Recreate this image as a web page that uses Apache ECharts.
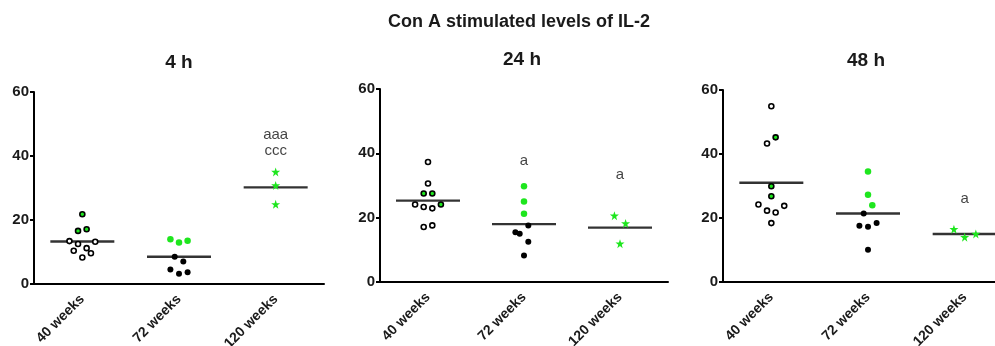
<!DOCTYPE html>
<html><head><meta charset="utf-8">
<script src="https://cdn.jsdelivr.net/npm/echarts@6/dist/echarts.min.js"></script>
<style>html,body{margin:0;padding:0;background:#fff}#c{width:995px;height:346px}</style>
</head><body><div id="c"></div>
<script>
const mainTitle = 'Con A stimulated levels of IL-2';
const panelTitles = ['4 h', '24 h', '48 h'];
const categories = ['40 weeks', '72 weeks', '120 weeks'];
const yTicks = [0, 20, 40, 60];

// ---- 4 h ----
const h4_40_open = [13.4, 13.2, 12.5, 11.2, 10.4, 9.6, 8.3];
const h4_40_open_jit = [-3, 3, -1, 1, -2, 2, 0];
const h4_40_green = [21.8, 16.6, 17.1];
const h4_40_green_jit = [0, -1, 1];
const h4_72_green = [14.0, 13.0, 13.5];
const h4_72_green_jit = [-2, 0, 2];
const h4_72_black = [8.5, 7.0, 4.5, 3.2, 3.7];
const h4_72_black_jit = [-1, 1, -2, 0, 2];
const h4_120_star = [35.0, 30.8, 24.9];
const h4_120_star_jit = [0, 0, 0];
const h4_means = [13.3, 8.5, 30.2];
const h4_annot = [['120 weeks', 46.5, 'aaa'], ['120 weeks', 41.5, 'ccc']];

// ---- 24 h ----
const h24_40_open = [37.3, 30.6, 24.1, 23.3, 22.9, 17.1, 17.6];
const h24_40_open_jit = [0, 0, -3, -1, 1, -1, 1];
const h24_40_green = [27.5, 27.5, 24.1];
const h24_40_green_jit = [-1, 1, 3];
const h24_72_green = [29.8, 25.0, 21.2];
const h24_72_green_jit = [0, 0, 0];
const h24_72_black = [17.6, 15.5, 15.0, 12.5, 8.2];
const h24_72_black_jit = [1, -2, -1, 1, 0];
const h24_120_star = [20.6, 18.2, 11.9];
const h24_120_star_jit = [-1.3, 1.3, 0];
const h24_means = [25.3, 18.0, 16.9];
const h24_annot = [['72 weeks', 37.8, 'a'], ['120 weeks', 33.4, 'a']];

// ---- 48 h ----
const h48_40_open = [54.9, 43.3, 24.2, 22.3, 21.7, 23.8, 18.4];
const h48_40_open_jit = [0, -1, -3, -1, 1, 3, 0];
const h48_40_green = [45.2, 29.9, 26.8];
const h48_40_green_jit = [1, 0, 0];
const h48_72_green = [34.5, 27.3, 24.0];
const h48_72_green_jit = [0, 0, 1];
const h48_72_black = [21.4, 17.6, 17.3, 18.4, 10.1];
const h48_72_black_jit = [-1, -2, 0, 2, 0];
const h48_120_star = [16.5, 14.0, 15.0];
const h48_120_star_jit = [-2.5, 0, 2.6];
const h48_means = [31.0, 21.4, 15.0];
const h48_annot = [['120 weeks', 26.0, 'a']];

const panels = [
  {open: h4_40_open, openJ: h4_40_open_jit, g40: h4_40_green, g40J: h4_40_green_jit,
   g72: h4_72_green, g72J: h4_72_green_jit, b72: h4_72_black, b72J: h4_72_black_jit,
   s120: h4_120_star, s120J: h4_120_star_jit, means: h4_means, annot: h4_annot},
  {open: h24_40_open, openJ: h24_40_open_jit, g40: h24_40_green, g40J: h24_40_green_jit,
   g72: h24_72_green, g72J: h24_72_green_jit, b72: h24_72_black, b72J: h24_72_black_jit,
   s120: h24_120_star, s120J: h24_120_star_jit, means: h24_means, annot: h24_annot},
  {open: h48_40_open, openJ: h48_40_open_jit, g40: h48_40_green, g40J: h48_40_green_jit,
   g72: h48_72_green, g72J: h48_72_green_jit, b72: h48_72_black, b72J: h48_72_black_jit,
   s120: h48_120_star, s120J: h48_120_star_jit, means: h48_means, annot: h48_annot}
];

const GREEN = '#1ee61e';
const TXT = '#1a1a1a';
const FONT = '"Liberation Sans", Arial, sans-serif';
const JIT = 4.3;
const layout = [
  {left: 34, top: 92, width: 290, height: 192, titleX: 179, titleY: 63},
  {left: 380, top: 89, width: 288, height: 193, titleX: 522, titleY: 60},
  {left: 723, top: 90, width: 290, height: 192, titleX: 866, titleY: 61}
];

function pts(cat, vals, jit) {
  return vals.map((v, i) => ({value: [cat, v], symbolOffset: [jit[i] * JIT, 0]}));
}

const grids = [], xAxes = [], yAxes = [], series = [];
const graphics = [{type: 'text', left: 388, top: 13, silent: true,
  style: {text: mainTitle, font: 'bold 18px ' + FONT, fill: TXT}}];

panels.forEach((p, i) => {
  const L = layout[i];
  grids.push({left: L.left, top: L.top, width: L.width, height: L.height,
    containLabel: false, outerBoundsMode: 'none'});
  graphics.push({type: 'text', x: L.titleX, y: L.titleY, silent: true,
    style: {text: panelTitles[i], font: 'bold 19px ' + FONT, fill: TXT,
      textAlign: 'center', textVerticalAlign: 'middle'}});
  xAxes.push({type: 'category', gridIndex: i, data: categories, boundaryGap: true,
    axisLine: {lineStyle: {color: '#000', width: 2}},
    axisTick: {alignWithLabel: true, length: 5, lineStyle: {color: '#000', width: 2}},
    axisLabel: {rotate: 45, fontFamily: FONT, fontSize: 14, fontWeight: 'bold', color: TXT, margin: 13},
    splitLine: {show: false}});
  yAxes.push({type: 'value', gridIndex: i, min: yTicks[0], max: yTicks[yTicks.length - 1], interval: 20,
    axisLine: {show: true, lineStyle: {color: '#000', width: 2}},
    axisTick: {show: true, length: 4, lineStyle: {color: '#000', width: 2}},
    axisLabel: {fontFamily: FONT, fontSize: 15, fontWeight: 'bold', color: TXT, margin: 5},
    splitLine: {show: false}});
  // mean lines
  series.push({type: 'scatter', xAxisIndex: i, yAxisIndex: i, z: 1, silent: true,
    symbol: 'rect', symbolSize: [64, 2.4], itemStyle: {color: '#000'},
    data: p.means.map((m, k) => [categories[k], m])});
  // open circles 40 wk
  series.push({type: 'scatter', xAxisIndex: i, yAxisIndex: i, z: 3,
    symbol: 'circle', symbolSize: 5, itemStyle: {color: '#fff', borderColor: '#000', borderWidth: 1.6, opacity: 1},
    data: pts(categories[0], p.open, p.openJ)});
  // green with black edge 40 wk
  series.push({type: 'scatter', xAxisIndex: i, yAxisIndex: i, z: 3,
    symbol: 'circle', symbolSize: 5, itemStyle: {color: GREEN, borderColor: '#000', borderWidth: 1.6, opacity: 1},
    data: pts(categories[0], p.g40, p.g40J)});
  // green filled 72 wk
  series.push({type: 'scatter', xAxisIndex: i, yAxisIndex: i, z: 3,
    symbol: 'circle', symbolSize: 6.5, itemStyle: {color: GREEN, opacity: 1},
    data: pts(categories[1], p.g72, p.g72J)});
  // black filled 72 wk
  series.push({type: 'scatter', xAxisIndex: i, yAxisIndex: i, z: 3,
    symbol: 'circle', symbolSize: 6, itemStyle: {color: '#000', opacity: 1},
    data: pts(categories[1], p.b72, p.b72J)});
  // green stars 120 wk
  series.push({type: 'scatter', xAxisIndex: i, yAxisIndex: i, z: 3,
    symbol: 'path://M50,0 L61.8,35.1 L98.9,35.4 L69.1,57.6 L79.4,95.1 L50,72.5 L20.6,95.1 L30.9,57.6 L1.1,35.4 L38.2,35.1 Z',
    symbolSize: 9, itemStyle: {color: GREEN, opacity: 1},
    data: pts(categories[2], p.s120, p.s120J)});
  // annotations
  series.push({type: 'scatter', xAxisIndex: i, yAxisIndex: i, z: 4, silent: true,
    symbolSize: 1, itemStyle: {color: 'rgba(0,0,0,0)'},
    label: {show: true, position: 'inside', formatter: d => d.data.name,
      fontFamily: FONT, fontSize: 15, color: '#111'},
    data: p.annot.map(a => ({name: a[2], value: [a[0], a[1]]}))});
});

const chart = echarts.init(document.getElementById('c'), null, {renderer: 'canvas'});
chart.setOption({
  animation: false,
  backgroundColor: '#fff',
  graphic: graphics,
  grid: grids,
  xAxis: xAxes,
  yAxis: yAxes,
  series: series
});
</script></body></html>
